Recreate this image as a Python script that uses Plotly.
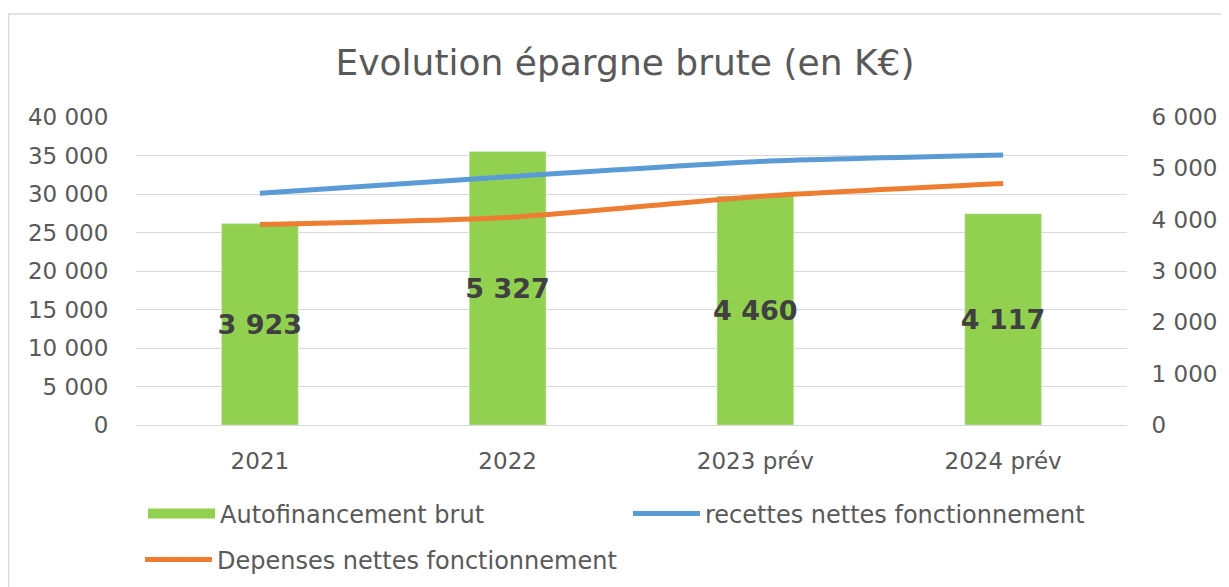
import plotly.graph_objects as go

categories = ["2021", "2022", "2023 prév", "2024 prév"]
autofinancement = [3923, 5327, 4460, 4117]
recettes = [30100, 32250, 34200, 35050]
depenses = [26050, 26950, 29650, 31350]

GREY = "#595959"
GREEN, BLUE, ORANGE = "#92D050", "#5B9BD5", "#ED7D31"
FONT = "DejaVu Sans"
# page has an 8px body margin, so the figure is drawn from (8, 8)
W, H = 1221, 579
ML, MR, MT, MB = 128, 102, 109, 162
PW, PH = W - ML - MR, H - MT - MB


def px_x(x):
    return (x - ML) / PW


def px_y(y):
    return (MT + PH - y) / PH


fig = go.Figure()
fig.add_trace(go.Bar(
    x=categories, y=autofinancement, name="Autofinancement brut",
    marker=dict(color=GREEN), width=0.31,
    text=autofinancement, texttemplate="%{text:,d}", textposition="inside",
    insidetextanchor="middle", constraintext="none", textangle=0,
    textfont=dict(family=FONT, size=27, color="#404040", weight="bold"),
    yaxis="y", hoverinfo="skip", showlegend=False,
))
# legend entry for the bars drawn as a wide rectangle (no marks plotted)
fig.add_trace(go.Scatter(
    x=categories, y=[None] * len(categories), name="Autofinancement brut",
    mode="lines", line=dict(color=GREEN, width=14), yaxis="y", legend="legend",
    hoverinfo="skip",
))
fig.add_trace(go.Scatter(
    x=categories, y=recettes, name="recettes nettes fonctionnement",
    mode="lines", line=dict(color=BLUE, width=5, shape="spline", smoothing=0.6),
    yaxis="y2", legend="legend2",
))
fig.add_trace(go.Scatter(
    x=categories, y=depenses, name="Depenses nettes fonctionnement",
    mode="lines", line=dict(color=ORANGE, width=5, shape="spline", smoothing=0.6),
    yaxis="y2", legend="legend3",
))

tickfont = dict(family=FONT, size=23, color=GREY)
legfont = dict(family=FONT, size=24, color=GREY)


def leg(x, y):
    return dict(orientation="h", x=px_x(x), xanchor="left", y=px_y(y),
                yanchor="middle", itemwidth=67, font=legfont,
                bgcolor="rgba(0,0,0,0)")


fig.update_layout(
    width=W, height=H,
    margin=dict(l=ML, r=MR, t=MT, b=MB, autoexpand=False),
    paper_bgcolor="white", plot_bgcolor="white",
    separators=", ",
    title=dict(text="Evolution épargne brute (en K€)", x=px_x(617), xanchor="center",
               xref="paper", y=1 - 54 / H, yanchor="middle",
               font=dict(family=FONT, size=36, color=GREY)),
    xaxis=dict(showgrid=False, showline=True, linecolor="#D9D9D9", linewidth=1,
               ticks="", tickfont=dict(family=FONT, size=23, color=GREY),
               ticklabelstandoff=15),
    yaxis=dict(side="right", range=[0, 6000], dtick=1000, tickformat=",d",
               showgrid=False, zeroline=False,
               tickfont=tickfont, ticks="outside", ticklen=19,
               tickcolor="rgba(0,0,0,0)"),
    yaxis2=dict(side="left", overlaying="y", range=[0, 40000], dtick=5000,
                tickformat=",d", showgrid=True, gridcolor="#D9D9D9", gridwidth=1,
                zeroline=False,
                tickfont=tickfont, ticks="outside", ticklen=22,
                tickcolor="rgba(0,0,0,0)"),
    legend=leg(135, 506),
    legend2=leg(620, 506),
    legend3=leg(132, 552),
    bargap=0.69,
    showlegend=True,
)
fig.add_shape(type="rect", xref="paper", yref="paper",
              x0=px_x(0.5), x1=px_x(W + 20),
              y0=px_y(H + 20), y1=px_y(6),
              line=dict(color="#D9D9D9", width=1.5), fillcolor="rgba(0,0,0,0)",
              layer="below")

fig.write_html("out.html")
